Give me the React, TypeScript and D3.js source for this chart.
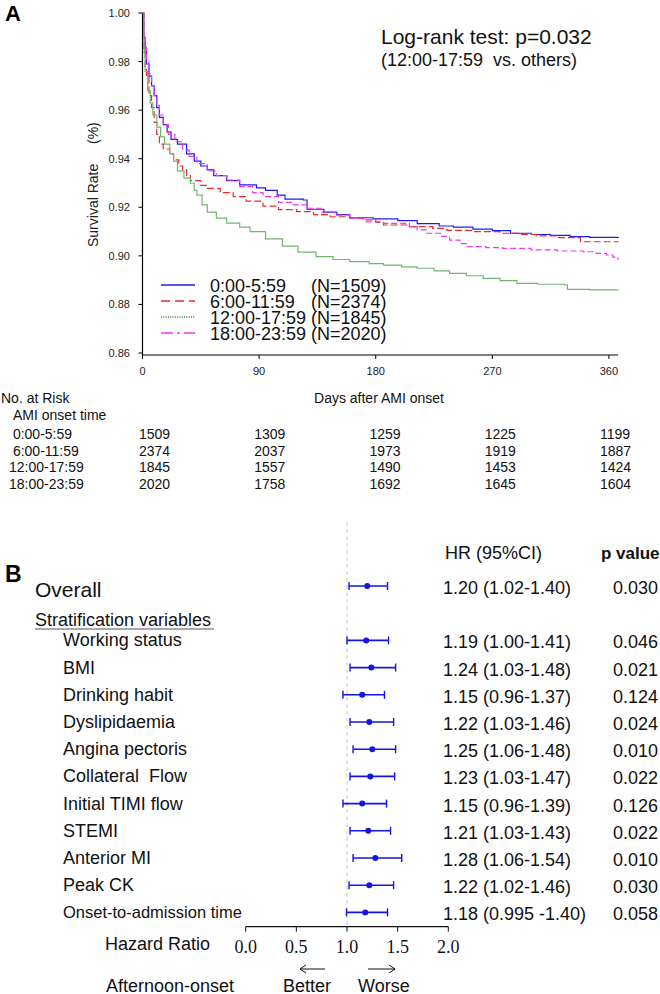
import React from "react";
import * as d3 from "d3";

// ---------- Panel A data ----------
const groupNames = ["0:00-5:59", "6:00-11:59", "12:00-17:59", "18:00-23:59"];
const groupN = ["(N=1509)", "(N=2374)", "(N=1845)", "(N=2020)"];

const kmBlue: [number, number][] = [
  [0, 1.0], [1, 0.99], [2, 0.984], [3, 0.979], [5, 0.974], [7, 0.97], [9, 0.966], [11, 0.961],
  [13, 0.957], [16, 0.954], [19, 0.951], [22, 0.948], [27, 0.946], [34, 0.942], [40, 0.939],
  [45, 0.937], [50, 0.9354], [55, 0.933], [65, 0.931], [75, 0.9292], [88, 0.928], [95, 0.927],
  [104, 0.925], [110, 0.9234], [124, 0.923], [127, 0.9192], [140, 0.918], [150, 0.917],
  [160, 0.9157], [178, 0.9152], [197, 0.9145], [212, 0.9133], [229, 0.9123], [240, 0.9118],
  [255, 0.911], [270, 0.9104], [284, 0.9093], [300, 0.9088], [315, 0.9084], [330, 0.9079],
  [345, 0.9076], [367, 0.9072],
];
const kmRed: [number, number][] = [
  [0, 1.0], [1, 0.984], [2, 0.978], [3, 0.974], [5, 0.966], [7, 0.961], [9, 0.955], [11, 0.95],
  [13, 0.946], [16, 0.944], [21, 0.942], [24, 0.9395], [28, 0.937], [31, 0.9355], [34, 0.933],
  [37, 0.931], [45, 0.929], [50, 0.9278], [60, 0.926], [70, 0.9244], [80, 0.9225], [93, 0.9205],
  [105, 0.919], [119, 0.9182], [132, 0.917], [145, 0.9161], [160, 0.9155], [170, 0.9148],
  [180, 0.9138], [186, 0.9127], [205, 0.912], [224, 0.9113], [235, 0.9105], [255, 0.91],
  [276, 0.9093], [290, 0.9088], [304, 0.9082], [320, 0.9075], [338, 0.9058], [367, 0.9056],
];
const kmGreen: [number, number][] = [
  [0, 1.0], [1, 0.985], [2, 0.976], [4, 0.968], [6, 0.963], [8, 0.958], [11, 0.953], [14, 0.949],
  [17, 0.946], [21, 0.942], [24, 0.939], [27, 0.935], [32, 0.932], [37, 0.9299], [40, 0.927],
  [42, 0.925], [46, 0.921], [50, 0.918], [57, 0.9155], [65, 0.9135], [75, 0.9118], [83, 0.91],
  [95, 0.907], [108, 0.904], [120, 0.9015], [134, 0.8997], [147, 0.8985], [160, 0.8976],
  [175, 0.8968], [186, 0.8962], [200, 0.8955], [212, 0.8949], [225, 0.8938], [237, 0.8928],
  [250, 0.8918], [263, 0.8907], [276, 0.8898], [289, 0.8887], [305, 0.8883], [326, 0.888],
  [328, 0.8862], [345, 0.886], [367, 0.8857],
];
const kmMagenta: [number, number][] = [
  [0, 1.0], [1, 0.991], [2, 0.986], [3, 0.981], [5, 0.975], [7, 0.97], [9, 0.966], [11, 0.962],
  [13, 0.958], [16, 0.954], [20, 0.95], [25, 0.947], [31, 0.9436], [36, 0.941], [42, 0.938],
  [50, 0.935], [57, 0.933], [65, 0.9312], [75, 0.9285], [85, 0.926], [93, 0.9244], [105, 0.922],
  [115, 0.921], [127, 0.9196], [138, 0.918], [150, 0.9168], [160, 0.9155], [172, 0.914],
  [186, 0.9134], [206, 0.912], [212, 0.9107], [219, 0.9093], [230, 0.908], [237, 0.9065],
  [245, 0.905], [250, 0.9038], [265, 0.9034], [278, 0.9031], [300, 0.9025], [320, 0.902],
  [340, 0.9017], [350, 0.901], [358, 0.9004], [363, 0.8995], [367, 0.8983],
];

const yTicks = [0.86, 0.88, 0.9, 0.92, 0.94, 0.96, 0.98, 1.0];
const xTicks = [0, 90, 180, 270, 360];

// No. at risk
const riskLabels = [" 0:00-5:59", " 6:00-11:59", "12:00-17:59", "18:00-23:59"];
const riskBlue = [1509, 1309, 1259, 1225, 1199];
const riskRed = [2374, 2037, 1973, 1919, 1887];
const riskGreen = [1845, 1557, 1490, 1453, 1424];
const riskMagenta = [2020, 1758, 1692, 1645, 1604];

// ---------- Panel B data ----------
const forestLabels = [
  "Overall", "Working status", "BMI", "Drinking habit", "Dyslipidaemia", "Angina pectoris",
  "Collateral  Flow", "Initial TIMI flow", "STEMI", "Anterior MI", "Peak CK", "Onset-to-admission time",
];
const forestHR = [1.2, 1.19, 1.24, 1.15, 1.22, 1.25, 1.23, 1.15, 1.21, 1.28, 1.22, 1.18];
const forestLo = [1.02, 1.0, 1.03, 0.96, 1.03, 1.06, 1.03, 0.96, 1.03, 1.06, 1.02, 0.995];
const forestHi = [1.4, 1.41, 1.48, 1.37, 1.46, 1.48, 1.47, 1.39, 1.43, 1.54, 1.46, 1.4];
const forestCI = [
  "1.20 (1.02-1.40)", "1.19 (1.00-1.41)", "1.24 (1.03-1.48)", "1.15 (0.96-1.37)", "1.22 (1.03-1.46)",
  "1.25 (1.06-1.48)", "1.23 (1.03-1.47)", "1.15 (0.96-1.39)", "1.21 (1.03-1.43)", "1.28 (1.06-1.54)",
  "1.22 (1.02-1.46)", "1.18 (0.995 -1.40)",
];
const forestP = ["0.030", "0.046", "0.021", "0.124", "0.024", "0.010", "0.022", "0.126", "0.022", "0.010", "0.030", "0.058"];
const hrTicks = [0, 0.5, 1.0, 1.5, 2.0];

const SANS = "'Liberation Sans', Arial, sans-serif";
const SERIF = "'Liberation Serif', 'Times New Roman', serif";

export default function App() {
  const W = 660, H = 994;
  const xKM = d3.scaleLinear().domain([0, 367]).range([142.5, 618]);
  const yKM = d3.scaleLinear().domain([0.86, 1.0]).range([353, 13]);
  const xAxisY = 355;
  const line = d3.line<[number, number]>().x(d => xKM(d[0])).y(d => yKM(d[1])).curve(d3.curveStepAfter);

  const series = [
    { data: kmBlue, color: "#1c1cf0", dash: "none", legColor: "#1c1cf0", legDash: "none", width: 1.2 },
    { data: kmRed, color: "#ee2a2a", dash: "7,3", legColor: "#ee2a2a", legDash: "9,5", width: 1.2 },
    { data: kmGreen, color: "#72b572", dash: "none", legColor: "#2d8b2d", legDash: "1,1.3", width: 1.2 },
    { data: kmMagenta, color: "#ee3aee", dash: "6,3", legColor: "#ee3aee", legDash: "12,4,3,4", width: 1.2 },
  ];
  const risk = [riskBlue, riskRed, riskGreen, riskMagenta];
  const xRisk = d3.scaleLinear().domain([0, 360]).range([139, 600]);
  const yRisk = d3.scaleLinear().domain([0, 3]).range([439, 488.5]);
  const yLeg = d3.scaleLinear().domain([0, 3]).range([285, 333]);

  const xHR = d3.scaleLinear().domain([0, 2]).range([245.7, 448.3]);
  const ySlot = d3.scaleLinear().domain([0, 12]).range([586, 912.4]);
  const slotOf = (i: number) => (i === 0 ? 0 : i + 1);
  const axisHRY = 926.7;
  const blue = "#1414e6";

  const arrow = (x1: number, x2: number, y: number) => {
    const dir = x2 > x1 ? 1 : -1;
    return `M${x1},${y}H${x2}M${x2 - dir * 6},${y - 4}L${x2},${y}L${x2 - dir * 6},${y + 4}`;
  };

  return (
    <svg width={W} height={H} style={{ position: "absolute", left: 0, top: 0, background: "#fff" }} fontFamily={SANS}>
      <rect width={W} height={H} fill="#fff" />
      {/* Panel A */}
      <text x={5} y={21} fontSize={22} fontWeight="bold">A</text>

      {/* y axis */}
      <line x1={142.5} x2={142.5} y1={yKM(1.0)} y2={xAxisY} stroke="#000" strokeWidth={1.2} />
      {yTicks.map(t => (
        <g key={t}>
          <line x1={138.5} x2={142.5} y1={yKM(t)} y2={yKM(t)} stroke="#000" strokeWidth={1} />
          <text x={130} y={yKM(t) + 4} fontSize={11} textAnchor="end" fill="#222">{t.toFixed(2)}</text>
        </g>
      ))}
      <text transform="translate(98,247) rotate(-90)" fontSize={14} fill="#222">Survival Rate</text>
      <text transform="translate(98,144) rotate(-90)" fontSize={14} fill="#222">(%)</text>

      {/* x axis */}
      <line x1={142.5} x2={618} y1={xAxisY} y2={xAxisY} stroke="#000" strokeWidth={1.2} />
      {xTicks.map(t => (
        <g key={t}>
          <line x1={xKM(t)} x2={xKM(t)} y1={xAxisY} y2={xAxisY + 4} stroke="#000" strokeWidth={1} />
          <text x={xKM(t)} y={375} fontSize={11} textAnchor="middle" fill="#222">{t}</text>
        </g>
      ))}

      {/* curves */}
      {series.map((s, i) => (
        <path key={i} d={line(s.data) || ""} fill="none" stroke={s.color} strokeWidth={s.width}
          strokeDasharray={s.dash === "none" ? undefined : s.dash} />
      ))}

      {/* log-rank */}
      <text x={381} y={44} fontSize={21} fill="#111">Log-rank test: p=0.032</text>
      <text x={381} y={66} fontSize={18} fill="#111" style={{ whiteSpace: "pre" }}>(12:00-17:59  vs. others)</text>

      {/* legend */}
      {series.map((s, i) => (
        <g key={i}>
          <line x1={161} x2={195} y1={yLeg(i)} y2={yLeg(i)} stroke={s.legColor} strokeWidth={1.3}
            strokeDasharray={s.legDash === "none" ? undefined : s.legDash} />
          <text x={210} y={yLeg(i) + 6.5} fontSize={18} fill="#111">{groupNames[i]}</text>
          <text x={311} y={yLeg(i) + 6.5} fontSize={18} fill="#111">{groupN[i]}</text>
        </g>
      ))}

      {/* risk table */}
      <text x={1} y={403} fontSize={14} fill="#111">No. at Risk</text>
      <text x={379} y={403} fontSize={14} fill="#111" textAnchor="middle">Days after AMI onset</text>
      <text x={13} y={420} fontSize={14} fill="#111">AMI onset time</text>
      {riskLabels.map((lab, i) => (
        <g key={lab}>
          <text x={9} y={yRisk(i)} fontSize={14} fill="#111" style={{ whiteSpace: "pre" }}>{lab}</text>
          {risk[i].map((v, j) => (
            <text key={j} x={xRisk(xTicks[j])} y={yRisk(i)} fontSize={14} fill="#111">{v}</text>
          ))}
        </g>
      ))}

      {/* Panel B */}
      <text x={5} y={582} fontSize={23} fontWeight="bold">B</text>
      <line x1={xHR(1)} x2={xHR(1)} y1={522} y2={axisHRY} stroke="#c8c8d0" strokeWidth={1} strokeDasharray="4,3" />
      <text x={445} y={559} fontSize={18} fill="#111">HR (95%CI)</text>
      <text x={601} y={559} fontSize={17} fill="#111" fontWeight="bold">p value</text>

      <text x={35} y={597} fontSize={21} fill="#111">Overall</text>
      <text x={35} y={626} fontSize={18} fill="#111">Stratification variables</text>
      <line x1={35} x2={214} y1={629} y2={629} stroke="#555" strokeWidth={1.2} />

      {forestLabels.map((lab, i) => {
        const y = ySlot(slotOf(i));
        return (
          <g key={lab}>
            {i > 0 && (
              <text x={63} y={y + 6} fontSize={i === 11 ? 16.5 : 18} fill="#111" style={{ whiteSpace: "pre" }}>{lab}</text>
            )}
            <line x1={xHR(forestLo[i])} x2={xHR(forestHi[i])} y1={y} y2={y} stroke={blue} strokeWidth={1.6} />
            <line x1={xHR(forestLo[i])} x2={xHR(forestLo[i])} y1={y - 4} y2={y + 4} stroke={blue} strokeWidth={1.4} />
            <line x1={xHR(forestHi[i])} x2={xHR(forestHi[i])} y1={y - 4} y2={y + 4} stroke={blue} strokeWidth={1.4} />
            <circle cx={xHR(forestHR[i])} cy={y} r={3} fill={blue} />
            <text x={443} y={y + 8} fontSize={18} fill="#111" style={{ whiteSpace: "pre" }}>{forestCI[i]}</text>
            <text x={613} y={y + 8} fontSize={18} fill="#111">{forestP[i]}</text>
          </g>
        );
      })}

      {/* HR axis */}
      <line x1={xHR(0)} x2={xHR(2)} y1={axisHRY} y2={axisHRY} stroke="#111" strokeWidth={1.2} />
      {hrTicks.map(t => (
        <g key={t}>
          <line x1={xHR(t)} x2={xHR(t)} y1={axisHRY} y2={axisHRY + 5} stroke="#111" strokeWidth={1} />
          <text x={xHR(t)} y={953} fontSize={18} textAnchor="middle" fontFamily={SERIF} fill="#111">{t.toFixed(1)}</text>
        </g>
      ))}
      <text x={105} y={950} fontSize={18} fill="#111">Hazard Ratio</text>
      <path d={arrow(325, 300, 969)} fill="none" stroke="#111" strokeWidth={1} />
      <path d={arrow(368, 395, 969)} fill="none" stroke="#111" strokeWidth={1} />
      <text x={106} y={992} fontSize={18} fill="#111">Afternoon-onset</text>
      <text x={283} y={992} fontSize={18} fill="#111">Better</text>
      <text x={358} y={992} fontSize={18} fill="#111">Worse</text>
    </svg>
  );
}
